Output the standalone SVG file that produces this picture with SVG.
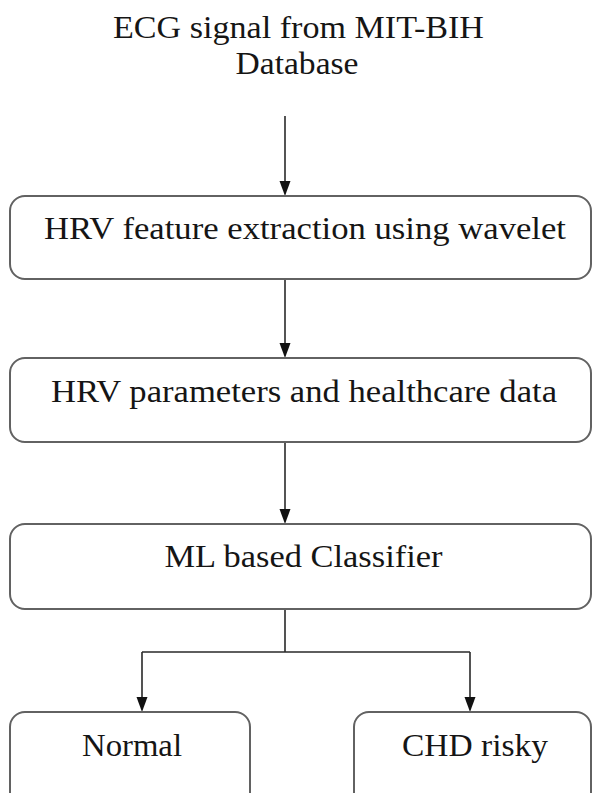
<svg xmlns="http://www.w3.org/2000/svg" width="593" height="793" viewBox="0 0 593 793">
<style>
.box{fill:#fff;stroke:#626262;stroke-width:2}
.lbl{fill:#151515;text-anchor:middle}
.line{fill:none;stroke:#2a2a2a;stroke-width:1.6}
.head{fill:#111}
</style>
<rect width="593" height="793" fill="#fff"/>
<g id="title">
<text class="lbl" x="298.5" y="38" textLength="371" lengthAdjust="spacingAndGlyphs" style="font-family:'Liberation Serif';font-size:32px">ECG signal from MIT-BIH</text>
<text class="lbl" x="297" y="74" textLength="123" lengthAdjust="spacingAndGlyphs" style="font-family:'Liberation Serif';font-size:32px">Database</text>
</g>
<g id="connectors">
<path class="line" d="M285,116 V182"/>
<path class="head" d="M279.5,181 L290.5,181 L285,196 Z"/>
<path class="line" d="M285,280 V344"/>
<path class="head" d="M279.5,343 L290.5,343 L285,358 Z"/>
<path class="line" d="M285,443 V510"/>
<path class="head" d="M279.5,509 L290.5,509 L285,524 Z"/>
<path class="line" d="M285,609 V652 M142,652 H470 M142,652 V698 M470,652 V698"/>
<path class="head" d="M136.5,697 L147.5,697 L142,712 Z"/>
<path class="head" d="M464.5,697 L475.5,697 L470,712 Z"/>
</g>
<g id="n1">
<rect class="box" x="10" y="196" width="581" height="83" rx="15"/>
<text class="lbl" x="305" y="239" textLength="522" lengthAdjust="spacingAndGlyphs" style="font-family:'Liberation Serif';font-size:32px">HRV feature extraction using wavelet</text>
</g>
<g id="n2">
<rect class="box" x="10" y="358" width="581" height="84" rx="15"/>
<text class="lbl" x="304" y="402" textLength="506" lengthAdjust="spacingAndGlyphs" style="font-family:'Liberation Serif';font-size:32px">HRV parameters and healthcare data</text>
</g>
<g id="n3">
<rect class="box" x="10" y="524" width="581" height="85" rx="15"/>
<text class="lbl" x="303.5" y="567" textLength="278" lengthAdjust="spacingAndGlyphs" style="font-family:'Liberation Serif';font-size:32px">ML based Classifier</text>
</g>
<g id="n4">
<rect class="box" x="10" y="712" width="240" height="100" rx="15"/>
<text class="lbl" x="132" y="756" textLength="100" lengthAdjust="spacingAndGlyphs" style="font-family:'Liberation Serif';font-size:32px">Normal</text>
</g>
<g id="n5">
<rect class="box" x="354" y="712" width="237" height="100" rx="15"/>
<text class="lbl" x="475" y="756" textLength="146" lengthAdjust="spacingAndGlyphs" style="font-family:'Liberation Serif';font-size:32px">CHD risky</text>
</g>
</svg>
